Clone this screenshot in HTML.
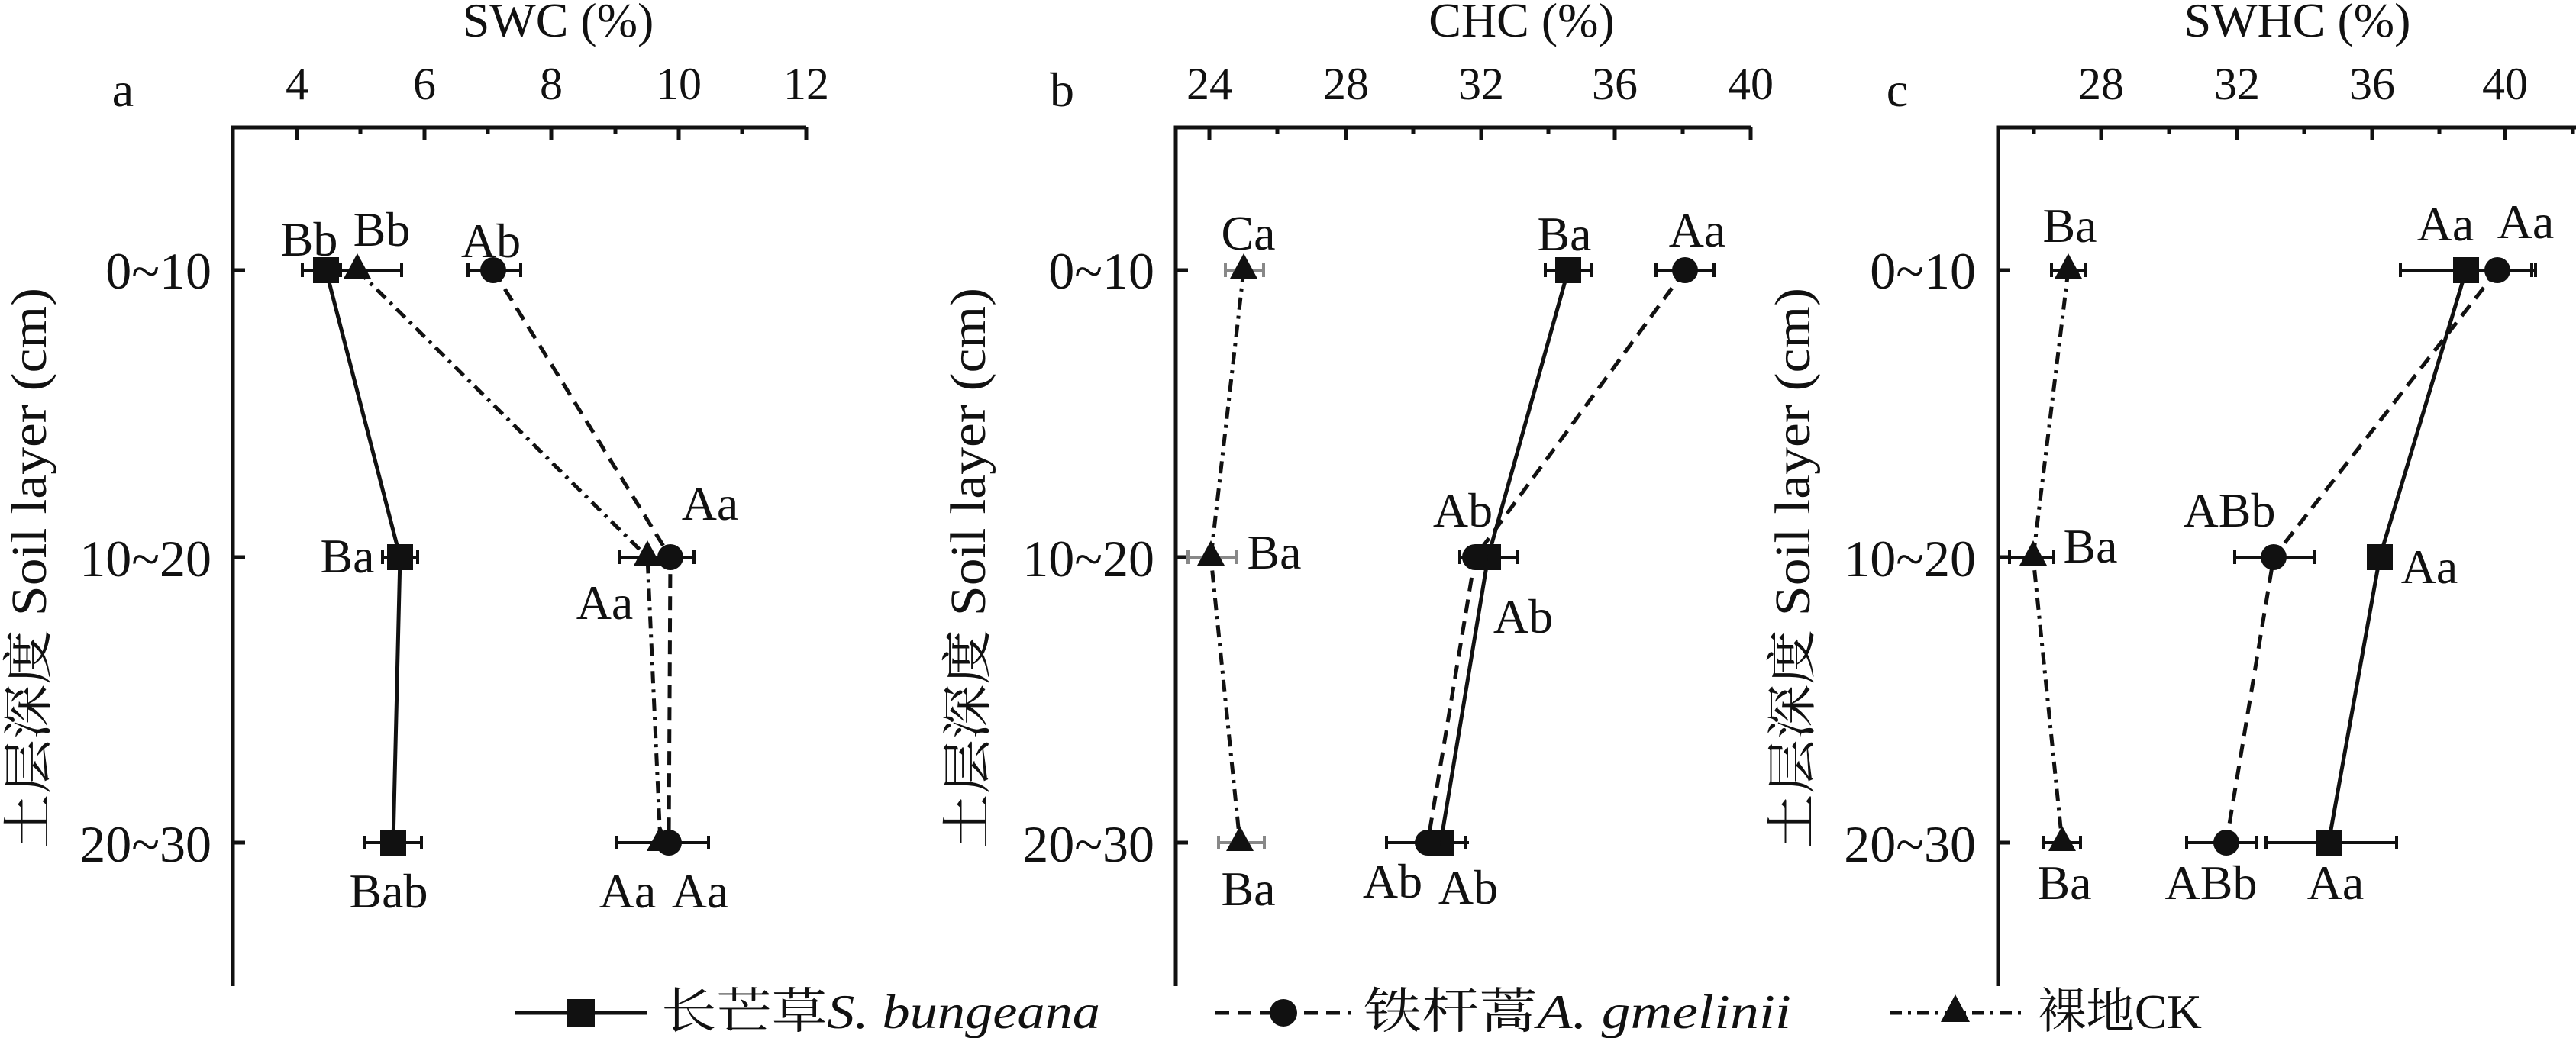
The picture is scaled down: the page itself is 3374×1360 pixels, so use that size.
<!DOCTYPE html>
<html><head><meta charset="utf-8"><style>
html,body{margin:0;padding:0;background:#fff;}
svg{display:block;}
</style></head><body>
<svg width="3374" height="1360" viewBox="0 0 3374 1360" xmlns="http://www.w3.org/2000/svg" style="font-family:'Liberation Serif',serif" fill="#111">
<g stroke="#111" stroke-width="5" fill="none">
<path d="M305 1292 V167 H1056"/>
<path d="M389 167v16 M556 167v16 M722 167v16 M889 167v16 M1056 167v16 M472 167v9 M639 167v9 M806 167v9 M972 167v9"/>
<path d="M305 354h16 M305 730h16 M305 1104h16"/>
<path d="M1540 1292 V167 H2293"/>
<path d="M1584 167v16 M1763 167v16 M1940 167v16 M2115 167v16 M2293 167v16 M1673 167v9 M1851 167v9 M2028 167v9 M2204 167v9"/>
<path d="M1540 354h16 M1540 730h16 M1540 1104h16"/>
<path d="M2617 1292 V167 H3374"/>
<path d="M2752 167v16 M2930 167v16 M3107 167v16 M3281 167v16 M2664 167v9 M2841 167v9 M3018 167v9 M3195 167v9 M3370 167v9"/>
<path d="M2617 354h16 M2617 730h16 M2617 1104h16"/>
</g>
<g font-size="60" text-anchor="middle" style="font-family:'Liberation Serif','Times New Roman',serif">
<text x="389" y="130">4</text><text x="556" y="130">6</text><text x="722" y="130">8</text><text x="889" y="130">10</text><text x="1056" y="130">12</text>
<text x="1584" y="130">24</text><text x="1763" y="130">28</text><text x="1940" y="130">32</text><text x="2115" y="130">36</text><text x="2293" y="130">40</text>
<text x="2752" y="130">28</text><text x="2930" y="130">32</text><text x="3107" y="130">36</text><text x="3281" y="130">40</text>
</g>
<g font-size="64" text-anchor="middle" style="font-family:'Liberation Serif','Times New Roman',serif">
<text x="731" y="48">SWC (%)</text>
<text x="1993" y="48">CHC (%)</text>
<text x="3009" y="48">SWHC (%)</text>
<text x="161" y="139">a</text><text x="1391" y="139">b</text><text x="2485" y="139">c</text>
</g>
<g font-size="68" text-anchor="end" style="font-family:'Liberation Serif','Times New Roman',serif">
<text x="277" y="378">0~10</text><text x="277" y="755">10~20</text><text x="277" y="1129">20~30</text>
<text x="1512" y="378">0~10</text><text x="1512" y="755">10~20</text><text x="1512" y="1129">20~30</text>
<text x="2588" y="378">0~10</text><text x="2588" y="755">10~20</text><text x="2588" y="1129">20~30</text>
</g>
<g font-size="66" style="font-family:'Liberation Serif','Noto Serif CJK SC',serif">
<text transform="translate(60,1112) rotate(-90)" textLength="735" lengthAdjust="spacingAndGlyphs">土层深度 Soil layer (cm)</text>
<text transform="translate(1290,1112) rotate(-90)" textLength="735" lengthAdjust="spacingAndGlyphs">土层深度 Soil layer (cm)</text>
<text transform="translate(2370,1112) rotate(-90)" textLength="735" lengthAdjust="spacingAndGlyphs">土层深度 Soil layer (cm)</text>
</g>

<g stroke="#111" stroke-width="5" fill="none">
<polyline points="427,354 524,730 515,1104"/>
<polyline points="2054,354 1949,730 1887,1104"/>
<polyline points="3230,354 3117,730 3050,1104"/>
</g>
<g stroke="#111" stroke-width="5" fill="none" stroke-dasharray="18,11">
<polyline points="646,354 878,730 876,1104"/>
<polyline points="2207,354 1932,730 1870,1104"/>
<polyline points="3271,354 2978,730 2916,1104"/>
</g>
<g stroke="#111" stroke-width="5" fill="none" stroke-dasharray="16,8,4,8">
<polyline points="468,354 848,730 865,1104"/>
<polyline points="1629,354 1586,730 1624,1104"/>
<polyline points="2709,354 2663,730 2701,1104"/>
</g>

<g stroke="#111" stroke-width="4" fill="none">
<path d="M396 354H446 M396 345v18 M446 345v18"/>
<path d="M410 354H526 M526 345v18"/>
<path d="M613 354H682 M613 345v18 M682 345v18"/>
<path d="M501 730H547 M501 721v18 M547 721v18"/>
<path d="M811 730H885 M811 721v18"/>
<path d="M847 730H909 M909 721v18"/>
<path d="M478 1104H552 M478 1095v18 M552 1095v18"/>
<path d="M807 1104H923 M807 1095v18"/>
<path d="M824 1104H928 M928 1095v18"/>
<path d="M2024 354H2085 M2024 345v18 M2085 345v18"/>
<path d="M2169 354H2245 M2169 345v18 M2245 345v18"/>
<path d="M1911 730H1987 M1987 721v18"/>
<path d="M1912 730H1952 M1912 721v18"/>
<path d="M1855 1104H1919 M1919 1095v18"/>
<path d="M1816 1104H1924 M1816 1095v18"/>
<path d="M3144 354H3316 M3144 345v18 M3316 345v18"/>
<path d="M3221 354H3321 M3321 345v18"/>
<path d="M2927 730H3032 M2927 721v18 M3032 721v18"/>
<path d="M2968 1104H3139 M2968 1095v18 M3139 1095v18"/>
<path d="M2864 1104H2955 M2864 1095v18 M2955 1095v18"/>
<path d="M2687 354H2731 M2687 345v18 M2731 345v18"/>
<path d="M2632 730H2690 M2632 721v18 M2690 721v18"/>
<path d="M2677 1104H2725 M2677 1095v18 M2725 1095v18"/>
</g>
<g stroke="#888" stroke-width="4" fill="none">
<path d="M1605 354H1655 M1605 345v18 M1655 345v18"/>
<path d="M1556 730H1620 M1556 721v18 M1620 721v18"/>
<path d="M1596 1104H1656 M1596 1095v18 M1656 1095v18"/>
</g>

<g fill="#111">
<rect x="410" y="337" width="34" height="34"/><rect x="507" y="713" width="34" height="34"/><rect x="498" y="1087" width="34" height="34"/>
<rect x="2037" y="337" width="34" height="34"/><rect x="1932" y="713" width="34" height="34"/><rect x="1870" y="1087" width="34" height="34"/>
<rect x="3213" y="337" width="34" height="34"/><rect x="3100" y="713" width="34" height="34"/><rect x="3033" y="1087" width="34" height="34"/>
<circle cx="646" cy="354" r="17"/><circle cx="878" cy="730" r="17"/><circle cx="876" cy="1104" r="17"/>
<circle cx="2207" cy="354" r="17"/><circle cx="1932" cy="730" r="17"/><circle cx="1870" cy="1104" r="17"/>
<circle cx="3271" cy="354" r="17"/><circle cx="2978" cy="730" r="17"/><circle cx="2916" cy="1104" r="17"/>
<polygon points="468,332 450,365 486,365"/><polygon points="848,708 830,741 866,741"/><polygon points="865,1082 847,1115 883,1115"/>
<polygon points="1629,332 1611,365 1647,365"/><polygon points="1586,708 1568,741 1604,741"/><polygon points="1624,1082 1606,1115 1642,1115"/>
<polygon points="2709,332 2691,365 2727,365"/><polygon points="2663,708 2645,741 2681,741"/><polygon points="2701,1082 2683,1115 2719,1115"/>
</g>

<g font-size="64" text-anchor="middle" style="font-family:'Liberation Serif','Times New Roman',serif">
<text x="405" y="335">Bb</text><text x="500" y="322">Bb</text><text x="643" y="337">Ab</text>
<text x="930" y="681">Aa</text><text x="455" y="750">Ba</text><text x="792" y="811">Aa</text>
<text x="509" y="1189">Bab</text><text x="822" y="1189">Aa</text><text x="917" y="1189">Aa</text>
<text x="1635" y="327">Ca</text><text x="2049" y="328">Ba</text><text x="2223" y="323">Aa</text>
<text x="1669" y="745">Ba</text><text x="1916" y="690">Ab</text><text x="1995" y="829">Ab</text>
<text x="1635" y="1186">Ba</text><text x="1824" y="1176">Ab</text><text x="1923" y="1184">Ab</text>
<text x="2711" y="317">Ba</text><text x="3203" y="315">Aa</text><text x="3308" y="312">Aa</text>
<text x="2920" y="690">ABb</text><text x="2738" y="737">Ba</text><text x="3182" y="764">Aa</text>
<text x="2704" y="1178">Ba</text><text x="2896" y="1178">ABb</text><text x="3059" y="1178">Aa</text>
</g>

<g stroke="#111" stroke-width="5" fill="none">
<path d="M674 1327H847"/>
<path d="M1592 1327H1769" stroke-dasharray="18,11"/>
<path d="M2475 1327H2651" stroke-dasharray="16,8,4,8"/>
</g>
<g fill="#111">
<rect x="743" y="1309" width="36" height="36"/>
<circle cx="1681" cy="1327" r="18"/>
<polygon points="2561,1303 2542,1339 2580,1339"/>
</g>
<g font-size="64" style="font-family:'Liberation Serif','Noto Serif CJK SC',serif">
<text x="866" y="1347" textLength="575" lengthAdjust="spacingAndGlyphs">长芒草<tspan font-style="italic">S. bungeana</tspan></text>
<text x="1786" y="1347" textLength="560" lengthAdjust="spacingAndGlyphs">铁杆蒿<tspan font-style="italic">A. gmelinii</tspan></text>
<text x="2669" y="1347" textLength="215" lengthAdjust="spacingAndGlyphs">裸地CK</text>
</g>
</svg>
</body></html>
